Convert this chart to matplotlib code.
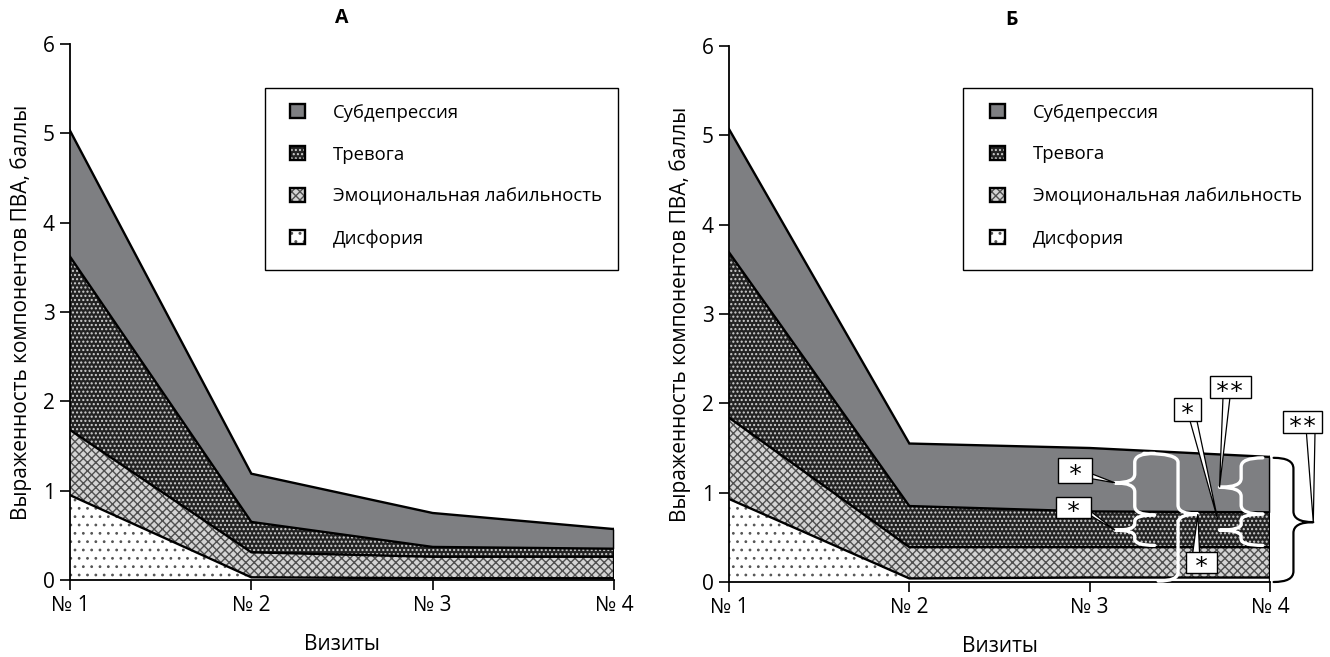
import numpy as np
import matplotlib
matplotlib.use("Agg")
import matplotlib.pyplot as plt
from matplotlib.patches import Patch, Rectangle, Polygon, PathPatch
from matplotlib.path import Path

plt.rcParams['font.family'] = ['Open Sans', 'DejaVu Sans']

visits = ['№ 1', '№ 2', '№ 3', '№ 4']
layer_names = ['Дисфория', 'Эмоциональная лабильность', 'Тревога', 'Субдепрессия']

# panel A (components, not cumulative)
a_dysphoria = [0.95, 0.03, 0.02, 0.02]
a_lability = [0.73, 0.28, 0.24, 0.24]
a_anxiety = [1.94, 0.34, 0.11, 0.09]
a_subdep = [1.41, 0.54, 0.38, 0.22]

# panel B
b_dysphoria = [0.93, 0.04, 0.05, 0.05]
b_lability = [0.91, 0.35, 0.34, 0.34]
b_anxiety = [1.85, 0.46, 0.40, 0.39]
b_subdep = [1.38, 0.70, 0.71, 0.62]

# face, hatch, hatch colour, hatch width per layer (bottom to top)
styles = [('white', '..', '#555555', 0.8),
          ('#d4d4d4', 'xxxx', '#505050', 1.0),
          ('#232323', '....', '#d0d0d0', 1.0),
          ('#7e7f82', None, '#7e7f82', 1.0)]


def draw_panel(ax, layers, title, tx, frame_x, frame_w, frame_top, leg_x):
    x = np.arange(1, len(visits) + 1)
    base = np.zeros(len(x))
    tops = []
    for vals, (fc, h, hc, hw) in zip(layers, styles):
        top = base + np.array(vals)
        with plt.rc_context({'hatch.linewidth': hw}):
            ax.fill_between(x, base, top, facecolor=fc, hatch=h, edgecolor=hc,
                            linewidth=0, zorder=1)
        tops.append(top)
        base = top
    for t in tops:
        ax.plot(x, t, color='black', lw=1.7, zorder=3, solid_joinstyle='miter')
    ax.plot([x[-1], x[-1]], [0, tops[-1][-1]], color='black', lw=1.7, zorder=3)

    ax.set_xlim(1, 4)
    ax.set_ylim(0, 6)
    ax.set_xticks(x)
    ax.set_xticklabels(visits)
    ax.set_yticks(range(7))
    for s in ['top', 'right']:
        ax.spines[s].set_visible(False)
    for s in ['left', 'bottom']:
        ax.spines[s].set_linewidth(1.3)
        ax.spines[s].set_zorder(4)
    ax.tick_params(labelsize=15, length=7, width=1.2, pad=4)
    ax.set_xlabel('Визиты', fontsize=15, labelpad=13)
    ax.set_ylabel('Выраженность компонентов ПВА, баллы', fontsize=15, labelpad=8)
    ax.text(tx, 1.048, title, transform=ax.transAxes, ha='center', va='center',
            fontsize=14, fontweight='bold')

    # legend frame and entries
    ax.add_patch(Rectangle((frame_x, frame_top - 0.34), frame_w, 0.34,
                           transform=ax.transAxes, facecolor='white',
                           edgecolor='black', lw=1.0, clip_on=False, zorder=5))
    handles = []
    for fc, h, hc, hw in styles[::-1]:
        handles.append((Patch(facecolor=fc, hatch=h, edgecolor=hc, lw=0),
                        Patch(fill=False, edgecolor='black', lw=1.7)))
    leg = ax.legend(handles, layer_names[::-1], loc='upper left',
                    bbox_to_anchor=(leg_x, frame_top - 0.002), frameon=False,
                    fontsize=13.3, handlelength=0.8, handleheight=0.8,
                    handletextpad=1.5, labelspacing=1.29, borderpad=0.3)
    leg.set_zorder(6)


def brace(ax, xa_top, xa_bot, xm, xt, yb, yt, ytip, ry, color, lw):
    verts = [(xa_top, yt), (xm, yt), (xm, yt - ry),
             (xm, ytip + ry), (xm, ytip), (xt, ytip),
             (xm, ytip), (xm, ytip - ry),
             (xm, yb + ry), (xm, yb), (xa_bot, yb)]
    codes = [Path.MOVETO, Path.CURVE3, Path.CURVE3,
             Path.LINETO, Path.CURVE3, Path.CURVE3,
             Path.CURVE3, Path.CURVE3,
             Path.LINETO, Path.CURVE3, Path.CURVE3]
    ax.add_patch(PathPatch(Path(verts, codes), fill=False, edgecolor=color,
                           lw=lw, clip_on=False, zorder=7,
                           capstyle='round', joinstyle='round'))


def callout(ax, cx, cy, w, h, text, base, tip):
    ax.add_patch(Polygon([base[0], tip, base[1]], closed=True, facecolor='white',
                         edgecolor='black', lw=0.9, clip_on=False, zorder=8))
    ax.add_patch(Rectangle((cx - w / 2, cy - h / 2), w, h, facecolor='white',
                           edgecolor='black', lw=1.0, clip_on=False, zorder=9))
    ax.text(cx, cy - 0.05, text, ha='center', va='center', fontsize=18,
            family='DejaVu Sans Mono', zorder=10)


fig = plt.figure(figsize=(13.3, 6.57), dpi=100)
axA = fig.add_axes([70 / 1330, 1 - 580 / 657, 544 / 1330, 536 / 657])
axB = fig.add_axes([729 / 1330, 1 - 582 / 657, 541 / 1330, 536 / 657])

draw_panel(axA, [a_dysphoria, a_lability, a_anxiety, a_subdep], 'А', 0.5,
           0.358, 0.650, 0.918, 0.378)
draw_panel(axB, [b_dysphoria, b_lability, b_anxiety, b_subdep], 'Б', 0.523,
           0.433, 0.645, 0.922, 0.456)

# significance braces and callouts on panel B
brace(axB, 3.36, 3.36, 3.25, 3.14, 0.75, 1.44, 1.11, 0.1, 'white', 2.4)
brace(axB, 3.36, 3.36, 3.25, 3.14, 0.41, 0.75, 0.58, 0.07, 'white', 2.4)
brace(axB, 3.30, 3.38, 3.49, 3.60, 0.01, 1.44, 0.76, 0.1, 'white', 2.4)
brace(axB, 3.96, 3.96, 3.84, 3.72, 0.76, 1.39, 1.06, 0.1, 'white', 2.4)
brace(axB, 3.96, 3.96, 3.84, 3.72, 0.41, 0.76, 0.58, 0.07, 'white', 2.4)
brace(axB, 4.02, 4.02, 4.13, 4.24, 0.0, 1.39, 0.67, 0.12, 'black', 1.6)

callout(axB, 2.92, 1.25, 0.19, 0.28, '*', [(3.0, 1.16), (3.0, 1.22)], (3.14, 1.11))
callout(axB, 2.91, 0.83, 0.19, 0.235, '*', [(3.0, 0.75), (3.0, 0.80)], (3.14, 0.58))
callout(axB, 3.62, 0.22, 0.17, 0.235, '*', [(3.57, 0.30), (3.61, 0.30)], (3.60, 0.76))
callout(axB, 3.54, 1.93, 0.15, 0.25, '*', [(3.55, 1.85), (3.59, 1.85)], (3.71, 0.70))
callout(axB, 3.78, 2.18, 0.23, 0.25, '**', [(3.74, 2.10), (3.78, 2.10)], (3.72, 1.06))
callout(axB, 4.18, 1.79, 0.22, 0.24, '**', [(4.20, 1.72), (4.25, 1.72)], (4.24, 0.67))

fig.savefig('out.png', dpi=100)
